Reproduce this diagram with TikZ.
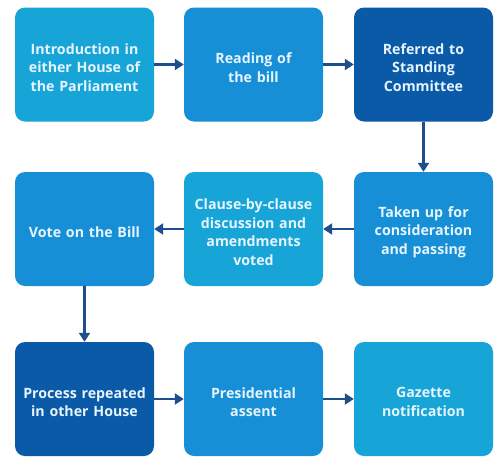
\documentclass[tikz,border=0pt]{standalone}
\usepackage{fontspec}
\setmainfont{Open Sans}
\usetikzlibrary{arrows.meta}
\definecolor{lightc}{HTML}{17A5D8}
\definecolor{midc}{HTML}{168FD6}
\definecolor{darkc}{HTML}{0A5AA8}
\definecolor{arrc}{HTML}{1D4F8E}
\definecolor{txtc}{HTML}{E6F5FF}
\begin{document}
\begin{tikzpicture}[x=1pt,y=-1pt,
  stagebox/.style={rounded corners=10pt, minimum width=139pt, minimum height=114pt, inner sep=0pt},
  stagetext/.style={text width=136pt, align=center, inner sep=0pt, text=txtc,
    font=\fontsize{14.2}{18.5}\selectfont\bfseries, yshift=-3pt},
  flowarrow/.style={draw=arrc, line width=2.6pt, -{Triangle[length=9pt,width=11pt]}}]
\useasboundingbox (0,0) rectangle (501,464);
\fill[white] (0,0) rectangle (501,464);
\node[stagebox, fill=lightc, label={[stagetext]center:{Introduction in\\either House of\\the Parliament}}] (n1) at (84.5,64.5) {};
\node[stagebox, fill=midc, label={[stagetext]center:{Reading of\\the bill}}] (n2) at (253.5,64.5) {};
\node[stagebox, fill=darkc, label={[stagetext]center:{Referred to\\Standing\\Committee}}] (n3) at (423.5,64.5) {};
\node[stagebox, fill=midc, label={[stagetext]center:{Taken up for\\consideration\\and passing}}] (n6) at (423.5,229) {};
\node[stagebox, fill=lightc, label={[stagetext]center:{Clause-by-clause\\discussion and\\amendments\\voted}}] (n5) at (253.5,229) {};
\node[stagebox, fill=midc, label={[stagetext]center:{Vote on the Bill}}] (n4) at (84.5,229) {};
\node[stagebox, fill=darkc, label={[stagetext]center:{Process repeated\\in other House}}] (n7) at (84.5,399) {};
\node[stagebox, fill=midc, label={[stagetext]center:{Presidential\\assent}}] (n8) at (253.5,399) {};
\node[stagebox, fill=lightc, label={[stagetext]center:{Gazette\\notification}}] (n9) at (423.5,399) {};
\draw[flowarrow] (n1) -- (n2);
\draw[flowarrow] (n2) -- (n3);
\draw[flowarrow] (n3) -- (n6);
\draw[flowarrow] (n6) -- (n5);
\draw[flowarrow] (n5) -- (n4);
\draw[flowarrow] (n4) -- (n7);
\draw[flowarrow] (n7) -- (n8);
\draw[flowarrow] (n8) -- (n9);
\end{tikzpicture}
\end{document}
